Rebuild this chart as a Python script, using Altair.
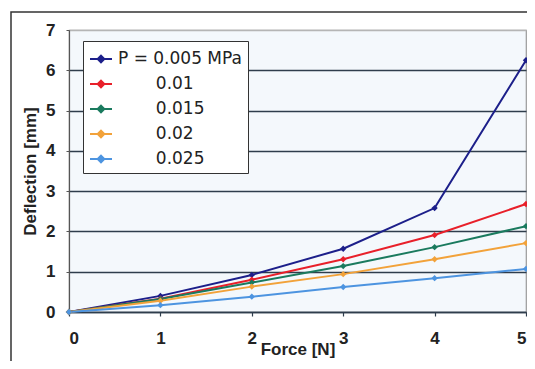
import altair as alt
import pandas as pd

force = [0, 1, 2, 3, 4, 5]
series = ["0.005", "0.01", "0.015", "0.02", "0.025"]
p005 = [0, 0.40, 0.92, 1.57, 2.58, 6.25]
p01 = [0, 0.33, 0.80, 1.31, 1.91, 2.68]
p015 = [0, 0.32, 0.73, 1.14, 1.61, 2.13]
p02 = [0, 0.28, 0.63, 0.94, 1.31, 1.71]
p025 = [0, 0.17, 0.38, 0.62, 0.84, 1.07]
colors = ["#1c1f8a", "#e8202a", "#1a7a5e", "#f2a23a", "#4d94e0"]
y_ticks = [0, 1, 2, 3, 4, 5, 6, 7]

rows = []
for s, vals in zip(series, [p005, p01, p015, p02, p025]):
    for f, v in zip(force, vals):
        rows.append({"Force": f, "Deflection": v, "P": s})
df = pd.DataFrame(rows)

pad = "\u200b" + "\u00a0" * 7
label_expr = "datum.label == '0.005' ? 'P = 0.005 MPa' : '" + pad + "' + datum.label"

lines = alt.Chart(df).mark_line(
    strokeWidth=2,
    point=alt.OverlayMarkDef(shape="diamond", size=40, filled=True),
).encode(
    x=alt.X("Force:Q", scale=alt.Scale(domain=[0, 5], nice=False),
            axis=alt.Axis(values=force, title="Force [N]", grid=False,
                          domainColor="#2f3d4c", domainWidth=1.5,
                          tickColor="#2f3d4c", tickSize=4, tickWidth=1.2,
                          labelPadding=22, labelBaseline="middle",
                          titleY=42, titleX=228.5, titleAlign="center",
                          titleBaseline="alphabetic")),
    y=alt.Y("Deflection:Q", scale=alt.Scale(domain=[0, 7], nice=False),
            axis=alt.Axis(values=y_ticks, title="Deflection [mm]",
                          grid=True,
                          gridColor={"condition": {"test": "datum.value == 7", "value": "#b5b5b5"},
                                     "value": "#2f3d4c"},
                          gridWidth=1.5,
                          domainColor="#555555", domainWidth=1.2,
                          tickColor="#555555", tickSize=3,
                          labelPadding=11,
                          titleX=-34, titleY=141, titleAngle=270,
                          titleAlign="center", titleBaseline="alphabetic")),
    color=alt.Color("P:N", scale=alt.Scale(domain=series, range=colors),
                    sort=series,
                    legend=alt.Legend(
                        title=None, orient="none", legendX=14, legendY=11,
                        labelExpr=label_expr,
                        symbolType="M-1,0H1M0,-0.3L0.3,0L0,0.3L-0.3,0Z",
                        symbolSize=484, symbolStrokeWidth=2,
                        labelOffset=5, rowPadding=5,
                        labelFont="DejaVu Sans", labelFontSize=17,
                        labelColor="#222222",
                        fillColor="white", strokeColor="#333333",
                        padding=6,
                    )),
)

border = alt.Chart(pd.DataFrame({"k": [0]})).mark_rect(
    fill="transparent", stroke="#333333", strokeWidth=1.5
).encode(
    x=alt.value(-58), x2=alt.value(480), y=alt.value(-18), y2=alt.value(360)
)

chart = alt.layer(border, lines).properties(
    width=457, height=282,
    autosize=alt.AutoSizeParams(type="none"),
    padding={"left": 61, "top": 22, "right": 1, "bottom": 49},
    background="white",
).configure_view(
    fill="#f4f8fc", stroke="#9a9a9a", strokeWidth=1.2
).configure_axis(
    labelFont="Liberation Sans", labelFontSize=17, labelFontWeight="bold",
    labelColor="#222222",
    titleFont="Liberation Sans", titleFontSize=17, titleFontWeight="bold",
    titleColor="#222222",
)

chart.save("out.html", embed_options={"renderer": "svg", "actions": False})
